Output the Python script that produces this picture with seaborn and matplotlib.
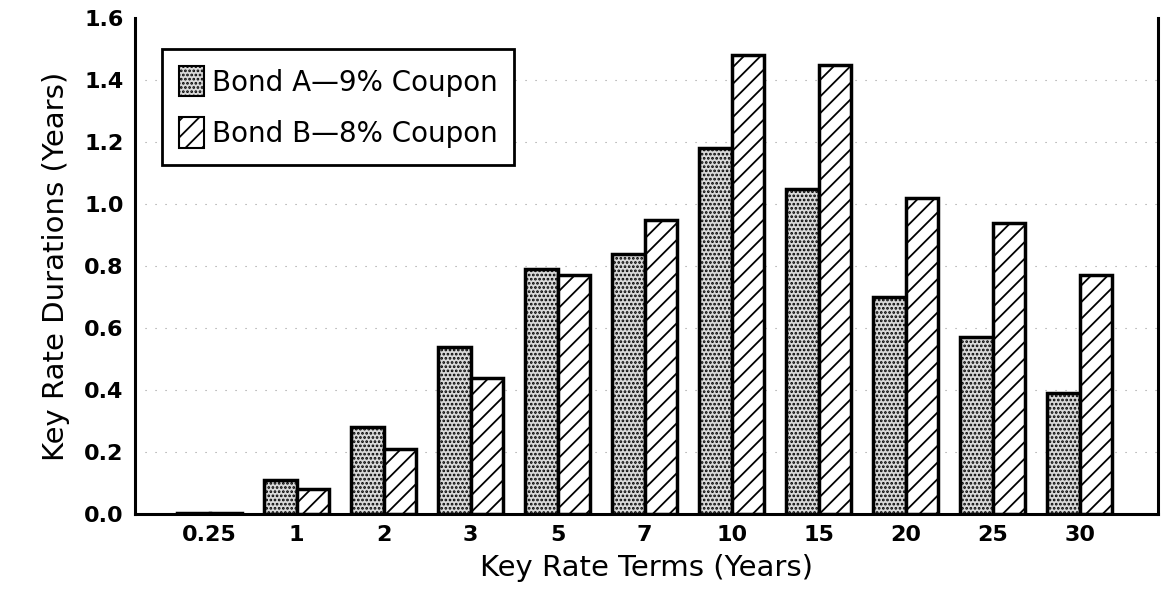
import pandas as pd
import matplotlib.pyplot as plt
import seaborn as sns
from matplotlib.patches import Patch

# Dados
terms = ["0.25", "1", "2", "3", "5", "7", "10", "15", "20", "25", "30"]
bond_a = [0.003, 0.11, 0.28, 0.54, 0.79, 0.84, 1.18, 1.05, 0.70, 0.57, 0.39]
bond_b = [0.003, 0.08, 0.21, 0.44, 0.77, 0.95, 1.48, 1.45, 1.02, 0.94, 0.77]
series = ["Bond A\u20149% Coupon", "Bond B\u20148% Coupon"]

df = pd.DataFrame({
    "term": terms * 2,
    "value": bond_a + bond_b,
    "bond": [series[0]] * len(terms) + [series[1]] * len(terms),
})

sns.set_theme(style="white")
plt.rcParams["font.family"] = ["DejaVu Sans"]
plt.rcParams["text.color"] = "black"
plt.rcParams["axes.labelcolor"] = "black"
plt.rcParams["hatch.linewidth"] = 1.3

fig = plt.figure(figsize=(11.72, 6.07), dpi=100)
ax = fig.add_axes([0.115, 0.153, 0.873, 0.817])

sns.barplot(data=df, x="term", y="value", hue="bond", order=terms,
            hue_order=series, width=0.75, ax=ax, legend=False,
            edgecolor="black", linewidth=2.5)

estilos = [("#d9d9d9", "...."), ("white", "//")]
n = len(terms)
for i, p in enumerate(ax.patches[:2 * n]):
    face, hatch = estilos[i // n]
    p.set_facecolor(face)
    p.set_hatch(hatch)
    p.set_edgecolor("black")

ax.set_ylim(0, 1.6)
ax.set_yticks([0.0, 0.2, 0.4, 0.6, 0.8, 1.0, 1.2, 1.4, 1.6])
ax.set_yticklabels([f"{v:.1f}" for v in ax.get_yticks()])
ax.set_xlim(-0.86, n - 1 + 0.9)

for y in [0.2, 0.4, 0.6, 0.8, 1.0, 1.2, 1.4]:
    ax.axhline(y, color="#999999", linestyle=(0, (1, 8)), linewidth=0.8, zorder=0)

for s in ["left", "bottom", "right"]:
    ax.spines[s].set_color("black")
    ax.spines[s].set_linewidth(2.2)
ax.spines["top"].set_visible(False)

ax.tick_params(axis="both", labelsize=16, colors="black", length=0, pad=8)
for lab in ax.get_xticklabels() + ax.get_yticklabels():
    lab.set_fontweight("semibold")

ax.set_xlabel("Key Rate Terms (Years)", fontsize=21, labelpad=6)
ax.set_ylabel("Key Rate Durations (Years)", fontsize=21, labelpad=10)

handles = [Patch(facecolor=f, hatch=h, edgecolor="black", linewidth=1.5) for f, h in estilos]
leg = ax.legend(handles, series, loc="upper left", bbox_to_anchor=(0.013, 0.965),
                fontsize=20, frameon=True, fancybox=False, framealpha=1,
                edgecolor="black", handlelength=0.9, handleheight=1.3,
                handletextpad=0.3, labelspacing=0.75, borderpad=0.6)
leg.get_frame().set_linewidth(2)
for t in leg.get_texts():
    t.set_color("black")

fig.savefig("out.png", dpi=100)
